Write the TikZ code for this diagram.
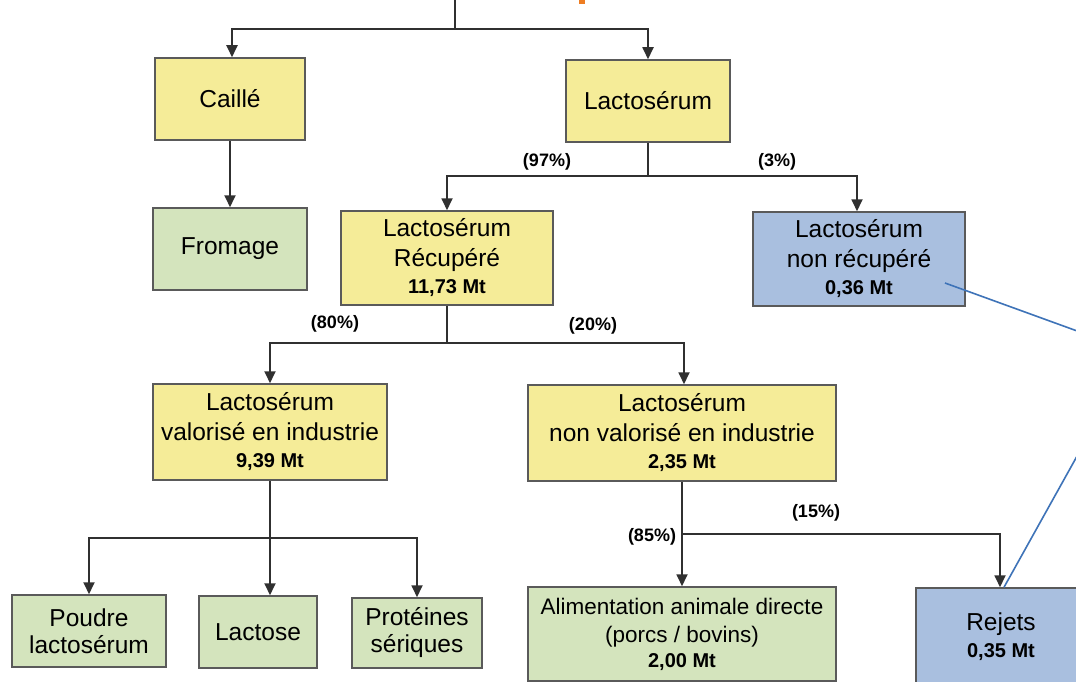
\documentclass[tikz,border=0pt]{standalone}
\usepackage{fontspec}
\setmainfont{Liberation Sans}
\usetikzlibrary{arrows.meta}
\definecolor{boxyellow}{HTML}{F5EC98}
\definecolor{boxgreen}{HTML}{D4E4BD}
\definecolor{boxblue}{HTML}{A9BFDF}
\definecolor{boxborder}{HTML}{5A5A5A}
\definecolor{linecol}{HTML}{303030}
\definecolor{bluelink}{HTML}{3E73B8}
\definecolor{orangemark}{HTML}{EE7D22}
\tikzset{
  every node/.style={font=\fontsize{24.5}{30}\selectfont},
  fbox/.style 2 args={draw=boxborder, line width=1.5pt, rectangle, inner sep=0pt,
     align=center, minimum width=#1, minimum height=#2},
  ybox/.style 2 args={fbox={#1}{#2}, fill=boxyellow},
  gbox/.style 2 args={fbox={#1}{#2}, fill=boxgreen},
  bbox/.style 2 args={fbox={#1}{#2}, fill=boxblue},
  conn/.style={draw=linecol, line width=1.8pt},
  arr/.style={conn, -{Triangle[width=11pt,length=12pt]}},
  pct/.style={font=\fontsize{18}{20}\selectfont\bfseries, inner sep=0pt},
  bluel/.style={draw=bluelink, line width=1.6pt},
}
\newcommand{\valtxt}[1]{\\[-3pt]{\fontsize{20}{22}\selectfont\bfseries #1}}
\begin{document}
\begin{tikzpicture}[x=1pt,y=-1pt]
\clip (0,0) rectangle (1076,682);
\fill[white] (0,0) rectangle (1076,682);
\fill[orangemark] (579,0) rectangle (585,4);

\node[ybox={150pt}{82pt}] (caille) at (230,99) {Caillé};
\node[ybox={164pt}{82pt}] (lacto) at (648,101) {Lactosérum};
\node[gbox={154pt}{82pt}] (fromage) at (230,249) {Fromage\rule[-4pt]{0pt}{4pt}};
\node[ybox={212pt}{94pt}] (recup) at (447,258) {Lactosérum\\Récupéré\valtxt{11,73 Mt}};
\node[bbox={212pt}{94pt}] (nonrec) at (859,259) {Lactosérum\\non récupéré\valtxt{0,36 Mt}};
\node[ybox={234pt}{96pt}] (val) at (270,432) {Lactosérum\\valorisé en industrie\valtxt{9,39 Mt}};
\node[ybox={308pt}{96pt}] (nonval) at (682,433) {Lactosérum\\non valorisé en industrie\valtxt{2,35 Mt}};
\node[gbox={154pt}{72pt}] (poudre) at (89,631) {Poudre\\[-3pt]lactosérum};
\node[gbox={118pt}{72pt}] (lactose) at (258,632) {Lactose};
\node[gbox={130pt}{70pt}] (prot) at (417,633) {Protéines\\[-3pt]sériques};
\node[gbox={308pt}{94pt}, font=\fontsize{22.5}{28}\selectfont] (alim) at (682,634) {Alimentation animale directe\\(porcs / bovins)\valtxt{2,00 Mt}};
\node[bbox={170pt}{98pt}] (rejets) at (1001,637) {Rejets\valtxt{0,35 Mt}};

% top split
\coordinate (top) at (455,-2);
\coordinate (j0) at (455,29);
\draw[conn] (top) -- (j0);
\draw[arr] (j0) -| ([xshift=2pt]caille.north);
\draw[arr] (j0) -| (lacto.north);

% caille -> fromage
\draw[arr] (caille.south) -- (caille.south |- fromage.north);

% lacto split
\coordinate (j1) at (648,176);
\draw[conn] (lacto.south) -- (j1);
\draw[arr] (j1) -| (recup.north);
\draw[arr] (j1) -| ([xshift=-2pt]nonrec.north);
\node[pct] (p97) at (547,162) {(97\%)};
\node[pct] (p3) at (777,162) {(3\%)};

% recup split
\coordinate (j2) at (447,343);
\draw[conn] (recup.south) -- (j2);
\draw[arr] (j2) -| (val.north);
\draw[arr] (j2) -| ([xshift=2pt]nonval.north);
\node[pct] (p80) at (335,324) {(80\%)};
\node[pct] (p20) at (593,326) {(20\%)};

% val split
\coordinate (j3) at (270,538);
\draw[conn] (val.south) -- (j3);
\draw[arr] (j3) -| (poudre.north);
\draw[arr] (j3) -| (prot.north);
\draw[arr] (j3) -- (j3 |- lactose.north);

% nonval split
\coordinate (j4) at (682,534);
\draw[arr] (nonval.south) -- (nonval.south |- alim.north);
\draw[arr] (j4) -| ([xshift=-1pt]rejets.north);
\node[pct] (p85) at (652,537) {(85\%)};
\node[pct] (p15) at (816,513) {(15\%)};

% blue link
\coordinate (bend) at (1135,352);
\draw[bluel] ([xshift=86pt,yshift=-24pt]nonrec.center) -- (bend) -- ([xshift=3pt]rejets.north);
\end{tikzpicture}
\end{document}
